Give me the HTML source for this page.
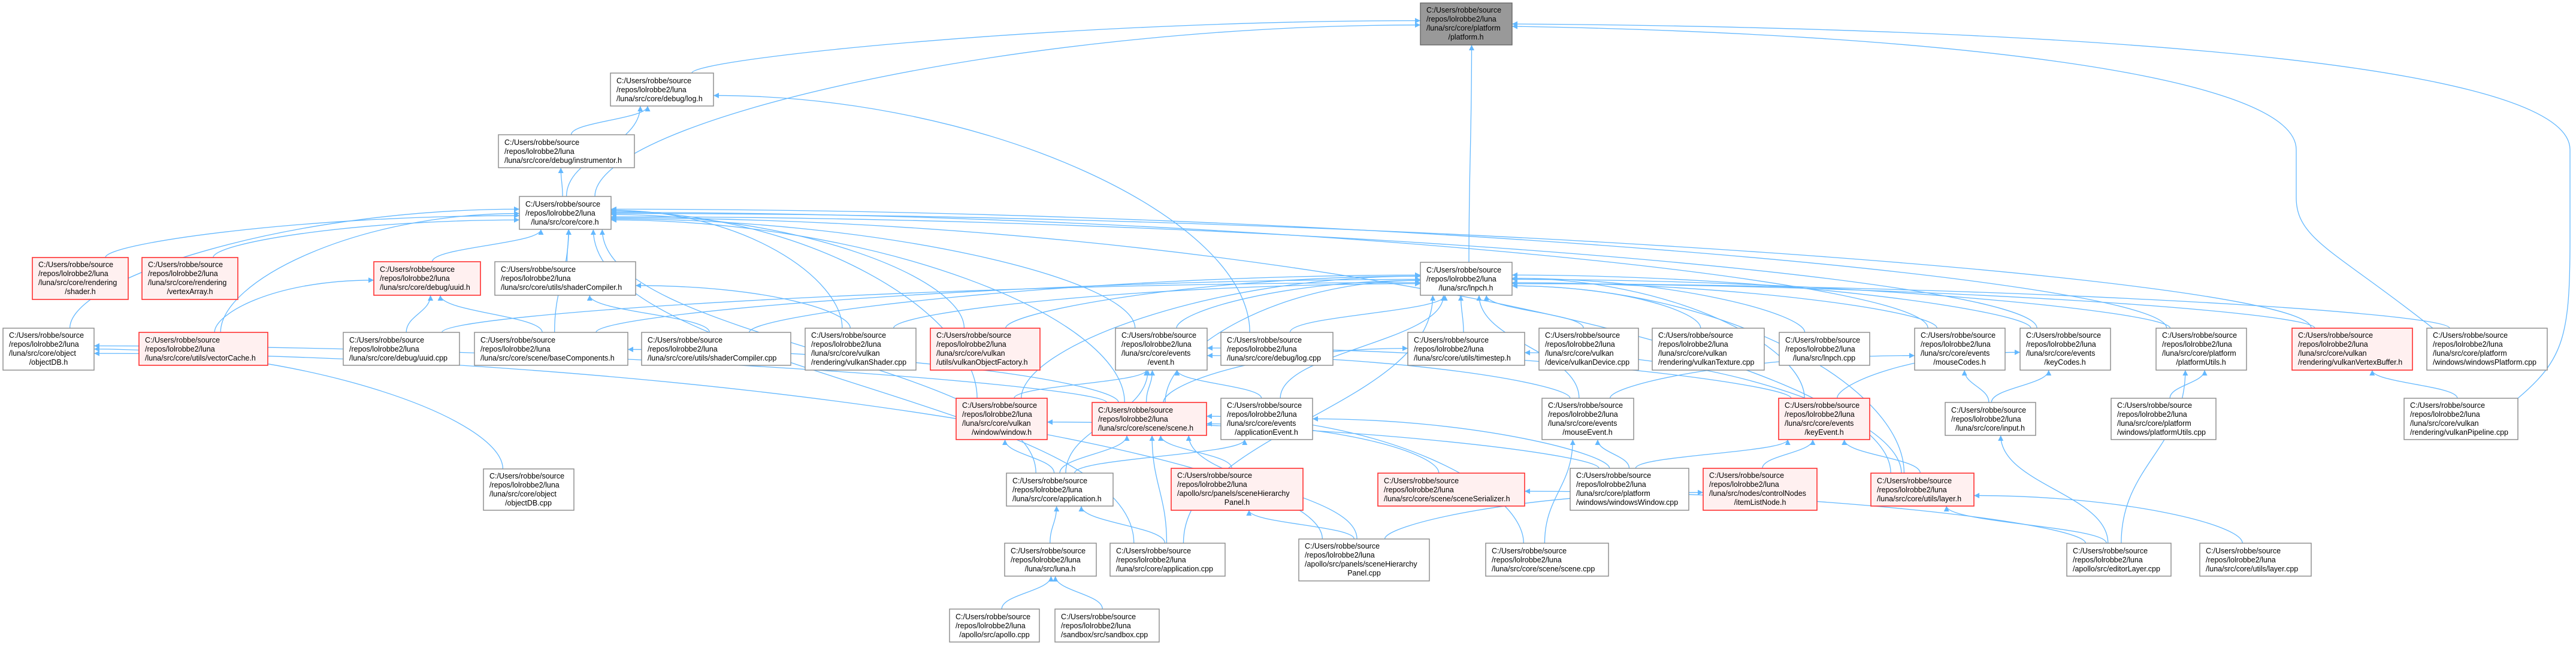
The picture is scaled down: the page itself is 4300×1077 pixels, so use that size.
<!DOCTYPE html>
<html><head><meta charset="utf-8">
<style>
html,body{margin:0;padding:0;background:#fff;}
svg{display:block;}
text{font-family:"Liberation Sans",Arial,sans-serif;font-size:12.5px;fill:#000;}
.n rect{fill:#fff;stroke:#888;stroke-width:1.4;}
.r rect{fill:#fff0f0;stroke:#ff3030;stroke-width:1.6;}
.g rect{fill:#999;stroke:#666;stroke-width:1.4;}
#edges path{fill:none;stroke:#63b8ff;stroke-width:1.3;}
</style></head>
<body>
<svg id="s" width="4300" height="1077" viewBox="0 0 4300 1077" xmlns="http://www.w3.org/2000/svg">
<defs><marker id="a" viewBox="0 0 10 10" refX="10" refY="5" markerWidth="11" markerHeight="9" markerUnits="userSpaceOnUse" orient="auto"><path d="M0,0 L10,5 L0,10 z" fill="#63b8ff"/></marker></defs>
<g id="edges"></g>
<g id="nodes">
<g class="g" id="P"><rect x="2371" y="5" width="153" height="70"/><text x="2381" y="21">C:/Users/robbe/source</text><text x="2381" y="36">/repos/lolrobbe2/luna</text><text x="2381" y="51">/luna/src/core/platform</text><text x="2447" y="66" text-anchor="middle">/platform.h</text></g>
<g class="n" id="LOG"><rect x="1019" y="122" width="172" height="55"/><text x="1029" y="139">C:/Users/robbe/source</text><text x="1029" y="154">/repos/lolrobbe2/luna</text><text x="1029" y="169">/luna/src/core/debug/log.h</text></g>
<g class="n" id="INS"><rect x="832" y="225" width="227" height="55"/><text x="842" y="242">C:/Users/robbe/source</text><text x="842" y="257">/repos/lolrobbe2/luna</text><text x="842" y="272">/luna/src/core/debug/instrumentor.h</text></g>
<g class="n" id="CORE"><rect x="867" y="328" width="153" height="55"/><text x="877" y="345">C:/Users/robbe/source</text><text x="877" y="360">/repos/lolrobbe2/luna</text><text x="943" y="375" text-anchor="middle">/luna/src/core/core.h</text></g>
<g class="n" id="LNPCH"><rect x="2371" y="438" width="153" height="55"/><text x="2381" y="455">C:/Users/robbe/source</text><text x="2381" y="470">/repos/lolrobbe2/luna</text><text x="2447" y="485" text-anchor="middle">/luna/src/lnpch.h</text></g>
<g class="r" id="SHADER"><rect x="54" y="430" width="160" height="70"/><text x="64" y="446">C:/Users/robbe/source</text><text x="64" y="461">/repos/lolrobbe2/luna</text><text x="64" y="476">/luna/src/core/rendering</text><text x="134" y="491" text-anchor="middle">/shader.h</text></g>
<g class="r" id="VA"><rect x="237" y="430" width="160" height="70"/><text x="247" y="446">C:/Users/robbe/source</text><text x="247" y="461">/repos/lolrobbe2/luna</text><text x="247" y="476">/luna/src/core/rendering</text><text x="317" y="491" text-anchor="middle">/vertexArray.h</text></g>
<g class="r" id="UUIDH"><rect x="624" y="437" width="178" height="56"/><text x="634" y="454">C:/Users/robbe/source</text><text x="634" y="469">/repos/lolrobbe2/luna</text><text x="634" y="484">/luna/src/core/debug/uuid.h</text></g>
<g class="n" id="SCH"><rect x="826" y="437" width="235" height="56"/><text x="836" y="454">C:/Users/robbe/source</text><text x="836" y="469">/repos/lolrobbe2/luna</text><text x="836" y="484">/luna/src/core/utils/shaderCompiler.h</text></g>
<g class="n" id="OBJH"><rect x="5" y="548" width="152" height="70"/><text x="15" y="564">C:/Users/robbe/source</text><text x="15" y="579">/repos/lolrobbe2/luna</text><text x="15" y="594">/luna/src/core/object</text><text x="81" y="609" text-anchor="middle">/objectDB.h</text></g>
<g class="r" id="VC"><rect x="232" y="555" width="215" height="55"/><text x="242" y="572">C:/Users/robbe/source</text><text x="242" y="587">/repos/lolrobbe2/luna</text><text x="242" y="602">/luna/src/core/utils/vectorCache.h</text></g>
<g class="n" id="UUIDC"><rect x="573" y="555" width="194" height="55"/><text x="583" y="572">C:/Users/robbe/source</text><text x="583" y="587">/repos/lolrobbe2/luna</text><text x="583" y="602">/luna/src/core/debug/uuid.cpp</text></g>
<g class="n" id="BC"><rect x="792" y="555" width="256" height="55"/><text x="802" y="572">C:/Users/robbe/source</text><text x="802" y="587">/repos/lolrobbe2/luna</text><text x="802" y="602">/luna/src/core/scene/baseComponents.h</text></g>
<g class="n" id="SCC"><rect x="1071" y="555" width="249" height="55"/><text x="1081" y="572">C:/Users/robbe/source</text><text x="1081" y="587">/repos/lolrobbe2/luna</text><text x="1081" y="602">/luna/src/core/utils/shaderCompiler.cpp</text></g>
<g class="n" id="VSH"><rect x="1344" y="548" width="185" height="70"/><text x="1354" y="564">C:/Users/robbe/source</text><text x="1354" y="579">/repos/lolrobbe2/luna</text><text x="1354" y="594">/luna/src/core/vulkan</text><text x="1354" y="609">/rendering/vulkanShader.cpp</text></g>
<g class="r" id="VOF"><rect x="1553" y="548" width="183" height="70"/><text x="1563" y="564">C:/Users/robbe/source</text><text x="1563" y="579">/repos/lolrobbe2/luna</text><text x="1563" y="594">/luna/src/core/vulkan</text><text x="1563" y="609">/utils/vulkanObjectFactory.h</text></g>
<g class="n" id="EVT"><rect x="1862" y="548" width="153" height="70"/><text x="1872" y="564">C:/Users/robbe/source</text><text x="1872" y="579">/repos/lolrobbe2/luna</text><text x="1872" y="594">/luna/src/core/events</text><text x="1938" y="609" text-anchor="middle">/event.h</text></g>
<g class="n" id="LOGC"><rect x="2038" y="555" width="187" height="55"/><text x="2048" y="572">C:/Users/robbe/source</text><text x="2048" y="587">/repos/lolrobbe2/luna</text><text x="2048" y="602">/luna/src/core/debug/log.cpp</text></g>
<g class="n" id="TS"><rect x="2350" y="555" width="195" height="55"/><text x="2360" y="572">C:/Users/robbe/source</text><text x="2360" y="587">/repos/lolrobbe2/luna</text><text x="2360" y="602">/luna/src/core/utils/timestep.h</text></g>
<g class="n" id="VD"><rect x="2569" y="548" width="166" height="70"/><text x="2579" y="564">C:/Users/robbe/source</text><text x="2579" y="579">/repos/lolrobbe2/luna</text><text x="2579" y="594">/luna/src/core/vulkan</text><text x="2579" y="609">/device/vulkanDevice.cpp</text></g>
<g class="n" id="VT"><rect x="2758" y="548" width="187" height="70"/><text x="2768" y="564">C:/Users/robbe/source</text><text x="2768" y="579">/repos/lolrobbe2/luna</text><text x="2768" y="594">/luna/src/core/vulkan</text><text x="2768" y="609">/rendering/vulkanTexture.cpp</text></g>
<g class="n" id="LNC"><rect x="2970" y="555" width="151" height="55"/><text x="2980" y="572">C:/Users/robbe/source</text><text x="2980" y="587">/repos/lolrobbe2/luna</text><text x="3045" y="602" text-anchor="middle">/luna/src/lnpch.cpp</text></g>
<g class="n" id="MC"><rect x="3196" y="548" width="151" height="70"/><text x="3206" y="564">C:/Users/robbe/source</text><text x="3206" y="579">/repos/lolrobbe2/luna</text><text x="3206" y="594">/luna/src/core/events</text><text x="3271" y="609" text-anchor="middle">/mouseCodes.h</text></g>
<g class="n" id="KC"><rect x="3372" y="548" width="151" height="70"/><text x="3382" y="564">C:/Users/robbe/source</text><text x="3382" y="579">/repos/lolrobbe2/luna</text><text x="3382" y="594">/luna/src/core/events</text><text x="3447" y="609" text-anchor="middle">/keyCodes.h</text></g>
<g class="n" id="PU"><rect x="3599" y="548" width="151" height="70"/><text x="3609" y="564">C:/Users/robbe/source</text><text x="3609" y="579">/repos/lolrobbe2/luna</text><text x="3609" y="594">/luna/src/core/platform</text><text x="3674" y="609" text-anchor="middle">/platformUtils.h</text></g>
<g class="r" id="VVB"><rect x="3826" y="548" width="201" height="70"/><text x="3836" y="564">C:/Users/robbe/source</text><text x="3836" y="579">/repos/lolrobbe2/luna</text><text x="3836" y="594">/luna/src/core/vulkan</text><text x="3836" y="609">/rendering/vulkanVertexBuffer.h</text></g>
<g class="n" id="WP"><rect x="4051" y="548" width="201" height="70"/><text x="4061" y="564">C:/Users/robbe/source</text><text x="4061" y="579">/repos/lolrobbe2/luna</text><text x="4061" y="594">/luna/src/core/platform</text><text x="4061" y="609">/windows/windowsPlatform.cpp</text></g>
<g class="r" id="WIN"><rect x="1596" y="665" width="152" height="69"/><text x="1606" y="681">C:/Users/robbe/source</text><text x="1606" y="696">/repos/lolrobbe2/luna</text><text x="1606" y="711">/luna/src/core/vulkan</text><text x="1672" y="726" text-anchor="middle">/window/window.h</text></g>
<g class="r" id="SCENE"><rect x="1823" y="672" width="191" height="55"/><text x="1833" y="689">C:/Users/robbe/source</text><text x="1833" y="704">/repos/lolrobbe2/luna</text><text x="1833" y="719">/luna/src/core/scene/scene.h</text></g>
<g class="n" id="AE"><rect x="2038" y="665" width="153" height="69"/><text x="2048" y="681">C:/Users/robbe/source</text><text x="2048" y="696">/repos/lolrobbe2/luna</text><text x="2048" y="711">/luna/src/core/events</text><text x="2114" y="726" text-anchor="middle">/applicationEvent.h</text></g>
<g class="n" id="ME"><rect x="2574" y="665" width="153" height="69"/><text x="2584" y="681">C:/Users/robbe/source</text><text x="2584" y="696">/repos/lolrobbe2/luna</text><text x="2584" y="711">/luna/src/core/events</text><text x="2650" y="726" text-anchor="middle">/mouseEvent.h</text></g>
<g class="r" id="KE"><rect x="2969" y="665" width="152" height="69"/><text x="2979" y="681">C:/Users/robbe/source</text><text x="2979" y="696">/repos/lolrobbe2/luna</text><text x="2979" y="711">/luna/src/core/events</text><text x="3045" y="726" text-anchor="middle">/keyEvent.h</text></g>
<g class="n" id="INP"><rect x="3247" y="672" width="151" height="55"/><text x="3257" y="689">C:/Users/robbe/source</text><text x="3257" y="704">/repos/lolrobbe2/luna</text><text x="3322" y="719" text-anchor="middle">/luna/src/core/input.h</text></g>
<g class="n" id="PUC"><rect x="3524" y="665" width="175" height="69"/><text x="3534" y="681">C:/Users/robbe/source</text><text x="3534" y="696">/repos/lolrobbe2/luna</text><text x="3534" y="711">/luna/src/core/platform</text><text x="3534" y="726">/windows/platformUtils.cpp</text></g>
<g class="n" id="VP"><rect x="4013" y="665" width="190" height="69"/><text x="4023" y="681">C:/Users/robbe/source</text><text x="4023" y="696">/repos/lolrobbe2/luna</text><text x="4023" y="711">/luna/src/core/vulkan</text><text x="4023" y="726">/rendering/vulkanPipeline.cpp</text></g>
<g class="n" id="OBJC"><rect x="807" y="783" width="151" height="69"/><text x="817" y="799">C:/Users/robbe/source</text><text x="817" y="814">/repos/lolrobbe2/luna</text><text x="817" y="829">/luna/src/core/object</text><text x="882" y="844" text-anchor="middle">/objectDB.cpp</text></g>
<g class="n" id="APPH"><rect x="1680" y="790" width="178" height="55"/><text x="1690" y="807">C:/Users/robbe/source</text><text x="1690" y="822">/repos/lolrobbe2/luna</text><text x="1690" y="837">/luna/src/core/application.h</text></g>
<g class="r" id="SHP"><rect x="1955" y="782" width="220" height="70"/><text x="1965" y="798">C:/Users/robbe/source</text><text x="1965" y="813">/repos/lolrobbe2/luna</text><text x="1965" y="828">/apollo/src/panels/sceneHierarchy</text><text x="2065" y="843" text-anchor="middle">Panel.h</text></g>
<g class="r" id="SS"><rect x="2300" y="790" width="245" height="55"/><text x="2310" y="807">C:/Users/robbe/source</text><text x="2310" y="822">/repos/lolrobbe2/luna</text><text x="2310" y="837">/luna/src/core/scene/sceneSerializer.h</text></g>
<g class="n" id="WW"><rect x="2621" y="782" width="198" height="70"/><text x="2631" y="798">C:/Users/robbe/source</text><text x="2631" y="813">/repos/lolrobbe2/luna</text><text x="2631" y="828">/luna/src/core/platform</text><text x="2631" y="843">/windows/windowsWindow.cpp</text></g>
<g class="r" id="ILN"><rect x="2843" y="782" width="190" height="70"/><text x="2853" y="798">C:/Users/robbe/source</text><text x="2853" y="813">/repos/lolrobbe2/luna</text><text x="2853" y="828">/luna/src/nodes/controlNodes</text><text x="2938" y="843" text-anchor="middle">/itemListNode.h</text></g>
<g class="r" id="LAYER"><rect x="3123" y="790" width="172" height="55"/><text x="3133" y="807">C:/Users/robbe/source</text><text x="3133" y="822">/repos/lolrobbe2/luna</text><text x="3133" y="837">/luna/src/core/utils/layer.h</text></g>
<g class="n" id="LUNA"><rect x="1677" y="907" width="153" height="55"/><text x="1687" y="924">C:/Users/robbe/source</text><text x="1687" y="939">/repos/lolrobbe2/luna</text><text x="1753" y="954" text-anchor="middle">/luna/src/luna.h</text></g>
<g class="n" id="APPC"><rect x="1853" y="907" width="192" height="55"/><text x="1863" y="924">C:/Users/robbe/source</text><text x="1863" y="939">/repos/lolrobbe2/luna</text><text x="1863" y="954">/luna/src/core/application.cpp</text></g>
<g class="n" id="SHPC"><rect x="2168" y="900" width="218" height="70"/><text x="2178" y="916">C:/Users/robbe/source</text><text x="2178" y="931">/repos/lolrobbe2/luna</text><text x="2178" y="946">/apollo/src/panels/sceneHierarchy</text><text x="2277" y="961" text-anchor="middle">Panel.cpp</text></g>
<g class="n" id="SCNC"><rect x="2480" y="907" width="205" height="55"/><text x="2490" y="924">C:/Users/robbe/source</text><text x="2490" y="939">/repos/lolrobbe2/luna</text><text x="2490" y="954">/luna/src/core/scene/scene.cpp</text></g>
<g class="n" id="EL"><rect x="3450" y="907" width="174" height="55"/><text x="3460" y="924">C:/Users/robbe/source</text><text x="3460" y="939">/repos/lolrobbe2/luna</text><text x="3460" y="954">/apollo/src/editorLayer.cpp</text></g>
<g class="n" id="LC"><rect x="3672" y="907" width="186" height="55"/><text x="3682" y="924">C:/Users/robbe/source</text><text x="3682" y="939">/repos/lolrobbe2/luna</text><text x="3682" y="954">/luna/src/core/utils/layer.cpp</text></g>
<g class="n" id="APO"><rect x="1585" y="1017" width="150" height="55"/><text x="1595" y="1034">C:/Users/robbe/source</text><text x="1595" y="1049">/repos/lolrobbe2/luna</text><text x="1660" y="1064" text-anchor="middle">/apollo/src/apollo.cpp</text></g>
<g class="n" id="SB"><rect x="1761" y="1017" width="174" height="55"/><text x="1771" y="1034">C:/Users/robbe/source</text><text x="1771" y="1049">/repos/lolrobbe2/luna</text><text x="1771" y="1064">/sandbox/src/sandbox.cpp</text></g>
</g>
</svg>
<script>
(function(){
var E=[["LOG","P"],["CORE","P"],["LNPCH","P"],
["CORE","LOG"],["INS","LOG"],["LOGC","LOG"],["CORE","INS"],
["SHADER","CORE"],["VA","CORE"],["UUIDH","CORE"],["SCH","CORE"],["OBJH","CORE"],["VC","CORE"],["BC","CORE"],["VSH","CORE"],["VOF","CORE"],["EVT","CORE"],["WIN","CORE"],["APPH","CORE"],["SCENE","CORE"],["MC","CORE"],["KC","CORE"],["PU","CORE"],["VVB","CORE"],["LAYER","CORE"],["APPC","CORE"],
["VC","UUIDH"],["UUIDC","UUIDH"],["BC","UUIDH"],["SCC","SCH"],["VSH","SCH"],
["OBJC","OBJH"],["SHPC","OBJH"],["SCENE","OBJH"],["SCENE","BC"],
["VSH","LNPCH"],["VOF","LNPCH"],["EVT","LNPCH"],["LOGC","LNPCH"],["TS","LNPCH"],["VD","LNPCH"],["VT","LNPCH"],["LNC","LNPCH"],["MC","LNPCH"],["KC","LNPCH"],["PU","LNPCH"],["VVB","LNPCH"],["WIN","LNPCH"],["SCENE","LNPCH"],["AE","LNPCH"],["ME","LNPCH"],["APPC","LNPCH"],["LAYER","LNPCH"],["KE","LNPCH"],["UUIDC","LNPCH"],["SCC","LNPCH"],["BC","LNPCH"],["WP","LNPCH"],
["SCENE","EVT"],["AE","EVT"],["ME","EVT"],["KE","EVT"],["APPH","EVT"],["WIN","EVT"],
["SCENE","TS"],["LAYER","TS"],
["APPH","SCENE"],["SHP","SCENE"],["SS","SCENE"],["SCNC","SCENE"],["APPC","SCENE"],["SHPC","SCENE"],
["APPH","WIN"],["WW","WIN"],["APPH","AE"],["WW","AE"],["WW","ME"],["SCNC","ME"],
["ILN","KE"],["LAYER","KE"],["WW","KE"],["INP","MC"],["ME","MC"],["INP","KC"],["KE","KC"],
["PUC","PU"],["EL","PU"],["VP","VVB"],["EL","INP"],["LUNA","APPH"],["APPC","APPH"],
["SHPC","SHP"],["EL","SS"],["LC","LAYER"],["EL","LAYER"],["SHPC","ILN"],["APO","LUNA"],["SB","LUNA"]];
function box(id){var r=document.querySelector('#'+id+' rect');return {x:+r.getAttribute('x'),y:+r.getAttribute('y'),w:+r.getAttribute('width'),h:+r.getAttribute('height')};}
var g=document.getElementById('edges'),ns="http://www.w3.org/2000/svg";
function add(d){var p=document.createElementNS(ns,'path');p.setAttribute('d',d);p.setAttribute('marker-end','url(#a)');g.appendChild(p);}
E.forEach(function(e,i){
 var s=box(e[0]),t=box(e[1]);
 var scx=s.x+s.w/2,tcx=t.x+t.w/2;
 var dx=tcx-scx, dy=(s.y)-(t.y+t.h);
 var off=((i*37)%11-5)*3;
 var sx=scx+Math.max(-s.w/3,Math.min(s.w/3,dx*0.05))+off*0.5, sy=s.y;
 var tx,ty,d;
 if(Math.abs(dx)>Math.max(350,dy*2.2)){
   ty=t.y+t.h*0.55+off*0.6;
   tx=dx>0?t.x:t.x+t.w;
   d="M"+sx+","+sy+" C"+sx+","+(sy-dy*0.5)+" "+(tx-(dx>0?1:-1)*Math.abs(dx)*0.45)+","+ty+" "+tx+","+ty;
 } else {
   tx=tcx+Math.max(-t.w/2.6,Math.min(t.w/2.6,-dx*0.15))+off; ty=t.y+t.h;
   d="M"+sx+","+sy+" C"+sx+","+(sy-dy*0.45)+" "+tx+","+(ty+dy*0.45)+" "+tx+","+ty;
 }
 add(d);
});
add("M4061,548 C3900,420 3833,400 3833,330 L3833,250 C3833,120 3200,55 2524,44");
add("M4203,665 C4280,600 4290,560 4290,400 L4290,250 C4290,90 3300,45 2524,40");
})();
</script>
</body></html>
